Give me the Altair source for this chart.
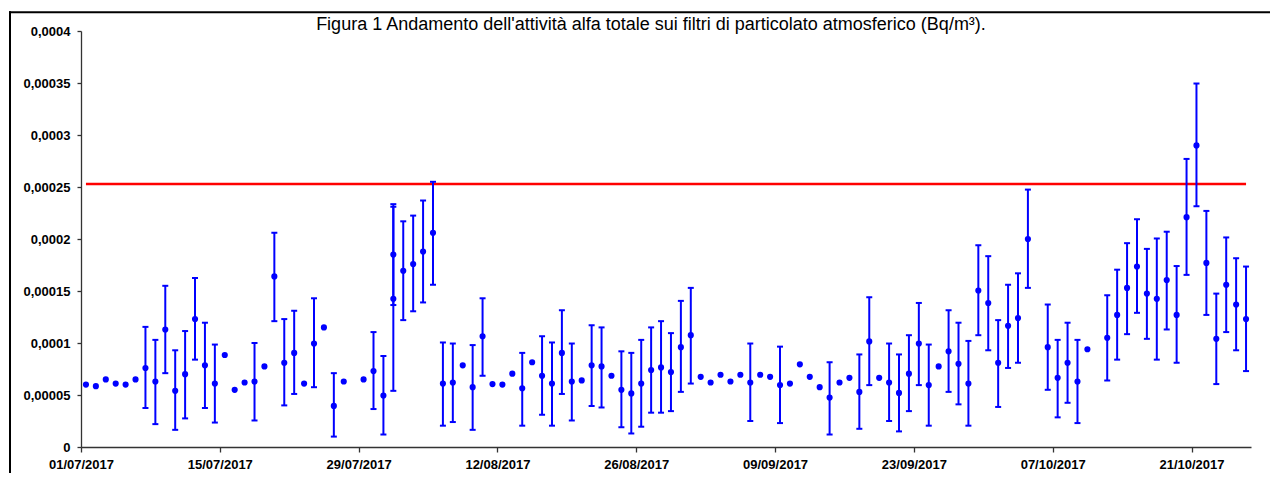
import altair as alt
import pandas as pd

# ---------------- data ----------------
dates = [
    "2017-07-01", "2017-07-02", "2017-07-03", "2017-07-04", "2017-07-05", "2017-07-06",
    "2017-07-07", "2017-07-08", "2017-07-09", "2017-07-10", "2017-07-11", "2017-07-12",
    "2017-07-13", "2017-07-14", "2017-07-15", "2017-07-16", "2017-07-17", "2017-07-18",
    "2017-07-19", "2017-07-20", "2017-07-21", "2017-07-22", "2017-07-23", "2017-07-24",
    "2017-07-25", "2017-07-26", "2017-07-27", "2017-07-29", "2017-07-30", "2017-07-31",
    "2017-08-01", "2017-08-01", "2017-08-02", "2017-08-03", "2017-08-04", "2017-08-05",
    "2017-08-06", "2017-08-07", "2017-08-08", "2017-08-09", "2017-08-10", "2017-08-11",
    "2017-08-12", "2017-08-13", "2017-08-14", "2017-08-15", "2017-08-16", "2017-08-17",
    "2017-08-18", "2017-08-19", "2017-08-20", "2017-08-21", "2017-08-22", "2017-08-23",
    "2017-08-24", "2017-08-25", "2017-08-26", "2017-08-27", "2017-08-28", "2017-08-29",
    "2017-08-30", "2017-08-31", "2017-09-01", "2017-09-02", "2017-09-03", "2017-09-04",
    "2017-09-05", "2017-09-06", "2017-09-07", "2017-09-08", "2017-09-09", "2017-09-10",
    "2017-09-11", "2017-09-12", "2017-09-13", "2017-09-14", "2017-09-15", "2017-09-16",
    "2017-09-17", "2017-09-18", "2017-09-19", "2017-09-20", "2017-09-21", "2017-09-22",
    "2017-09-23", "2017-09-24", "2017-09-25", "2017-09-26", "2017-09-27", "2017-09-28",
    "2017-09-29", "2017-09-30", "2017-10-01", "2017-10-02", "2017-10-03", "2017-10-04",
    "2017-10-06", "2017-10-07", "2017-10-08", "2017-10-09", "2017-10-10", "2017-10-12",
    "2017-10-13", "2017-10-14", "2017-10-15", "2017-10-16", "2017-10-17", "2017-10-18",
    "2017-10-19", "2017-10-20", "2017-10-21", "2017-10-22", "2017-10-23", "2017-10-24",
    "2017-10-25", "2017-10-26",
]

activity = [
    6.00e-05, 5.85e-05, 6.50e-05, 6.10e-05, 6.00e-05, 6.50e-05,
    7.60e-05, 6.30e-05, 11.30e-05, 5.40e-05, 7.00e-05, 12.30e-05,
    7.85e-05, 6.10e-05, 8.85e-05, 5.50e-05, 6.20e-05, 6.30e-05,
    7.75e-05, 16.40e-05, 8.10e-05, 9.05e-05, 6.10e-05, 9.95e-05,
    11.50e-05, 3.95e-05, 6.30e-05, 6.50e-05, 7.30e-05, 4.95e-05,
    18.50e-05, 14.25e-05, 16.95e-05, 17.60e-05, 18.80e-05, 20.60e-05,
    6.10e-05, 6.20e-05, 7.85e-05, 5.75e-05, 10.65e-05, 6.05e-05,
    6.00e-05, 7.05e-05, 5.65e-05, 8.15e-05, 6.85e-05, 6.10e-05,
    9.05e-05, 6.30e-05, 6.40e-05, 7.85e-05, 7.75e-05, 6.85e-05,
    5.50e-05, 5.15e-05, 6.10e-05, 7.40e-05, 7.65e-05, 7.20e-05,
    9.60e-05, 10.75e-05, 6.75e-05, 6.20e-05, 6.95e-05, 6.30e-05,
    6.95e-05, 6.20e-05, 6.95e-05, 6.75e-05, 5.95e-05, 6.10e-05,
    7.95e-05, 6.75e-05, 5.75e-05, 4.75e-05, 6.20e-05, 6.65e-05,
    5.30e-05, 10.15e-05, 6.65e-05, 6.20e-05, 5.20e-05, 7.05e-05,
    9.95e-05, 5.95e-05, 7.75e-05, 9.20e-05, 8.00e-05, 6.10e-05,
    15.05e-05, 13.85e-05, 8.10e-05, 11.65e-05, 12.40e-05, 20.00e-05,
    9.60e-05, 6.65e-05, 8.10e-05, 6.30e-05, 9.40e-05, 10.50e-05,
    12.70e-05, 15.30e-05, 17.35e-05, 14.75e-05, 14.25e-05, 16.05e-05,
    12.70e-05, 22.10e-05, 29.00e-05, 17.70e-05, 10.40e-05, 15.60e-05,
    13.70e-05, 12.30e-05,
]

# lower / upper end of the uncertainty bars (None = no bar drawn)
err_low = [
    None, None, None, None, None, None,
    3.75e-05, 2.20e-05, 7.10e-05, 1.65e-05, 2.75e-05, 8.40e-05,
    3.75e-05, 2.35e-05, None, None, None, 2.55e-05,
    None, 12.10e-05, 4.00e-05, 5.10e-05, None, 5.75e-05,
    None, 1.00e-05, None, None, 3.65e-05, 1.20e-05,
    13.65e-05, 5.40e-05, 12.20e-05, 13.05e-05, 13.90e-05, 15.60e-05,
    2.05e-05, 2.40e-05, None, 1.65e-05, 6.85e-05, None,
    None, None, 2.05e-05, None, 3.10e-05, 2.05e-05,
    5.10e-05, 2.55e-05, None, 3.95e-05, 3.80e-05, None,
    1.90e-05, 1.30e-05, 1.95e-05, 3.30e-05, 3.30e-05, 3.45e-05,
    5.30e-05, 6.10e-05, None, None, None, None,
    None, 2.50e-05, None, None, 2.30e-05, None,
    None, None, None, 1.20e-05, None, None,
    1.75e-05, 5.95e-05, None, 2.50e-05, 1.50e-05, 3.45e-05,
    5.95e-05, 2.05e-05, None, 5.30e-05, 4.10e-05, 2.05e-05,
    10.75e-05, 9.30e-05, 3.85e-05, 7.60e-05, 8.10e-05, 15.30e-05,
    5.50e-05, 2.85e-05, 4.25e-05, 2.30e-05, None, 6.40e-05,
    8.40e-05, 10.85e-05, 12.90e-05, 10.40e-05, 8.40e-05, 11.30e-05,
    8.10e-05, 16.55e-05, 23.15e-05, 12.70e-05, 6.05e-05, 11.05e-05,
    9.30e-05, 7.30e-05,
]

err_high = [
    None, None, None, None, None, None,
    11.55e-05, 10.30e-05, 15.50e-05, 9.30e-05, 11.15e-05, 16.25e-05,
    11.95e-05, 9.85e-05, None, None, None, 10.00e-05,
    None, 20.60e-05, 12.30e-05, 13.10e-05, None, 14.30e-05,
    None, 7.10e-05, None, None, 11.05e-05, 8.75e-05,
    23.35e-05, 23.10e-05, 21.70e-05, 22.25e-05, 23.70e-05, 25.50e-05,
    10.05e-05, 9.95e-05, None, 9.80e-05, 14.30e-05, None,
    None, None, 9.05e-05, None, 10.65e-05, 10.05e-05,
    13.15e-05, 9.95e-05, None, 11.70e-05, 11.50e-05, None,
    9.20e-05, 9.05e-05, 10.30e-05, 11.50e-05, 12.10e-05, 10.95e-05,
    14.05e-05, 15.30e-05, None, None, None, None,
    None, 9.95e-05, None, None, 9.65e-05, None,
    None, None, None, 8.15e-05, None, None,
    8.90e-05, 14.40e-05, None, 9.95e-05, 8.90e-05, 10.75e-05,
    13.85e-05, 9.85e-05, None, 13.15e-05, 11.95e-05, 10.20e-05,
    19.40e-05, 18.35e-05, 12.20e-05, 15.60e-05, 16.70e-05, 24.75e-05,
    13.70e-05, 10.30e-05, 11.95e-05, 10.30e-05, None, 14.60e-05,
    17.05e-05, 19.60e-05, 21.90e-05, 19.05e-05, 20.05e-05, 20.70e-05,
    17.40e-05, 27.70e-05, 34.95e-05, 22.70e-05, 14.75e-05, 20.15e-05,
    18.15e-05, 17.35e-05,
]

limit_value = 0.000253
limit_start = "2017-07-01"
limit_end = "2017-10-26"

tick_labels = ["01/07/2017", "15/07/2017", "29/07/2017", "12/08/2017", "26/08/2017",
               "09/09/2017", "23/09/2017", "07/10/2017", "21/10/2017"]
y_ticks = [0, 0.00005, 0.0001, 0.00015, 0.0002, 0.00025, 0.0003, 0.00035, 0.0004]

title_text = "Figura 1 Andamento dell'attività alfa totale sui filtri di particolato atmosferico (Bq/m³)."

# ---------------- tables ----------------
def day_centre(d):
    # each daily sample sits in the middle of its day slot
    return (pd.Timestamp(d) + pd.Timedelta(hours=12)).strftime("%Y-%m-%dT%H:%M:%SZ")

df = pd.DataFrame({
    "t": [day_centre(d) for d in dates],
    "value": activity,
    "lo": err_low,
    "hi": err_high,
})
df_err = df.dropna(subset=["lo", "hi"])

df_limit = pd.DataFrame({"start": [day_centre(limit_start)],
                         "end": [day_centre(limit_end)],
                         "limit": [limit_value]})

tick_vals = []
for s in tick_labels:
    dd, mm, yy = s.split("/")
    tick_vals.append(alt.DateTime(year=int(yy), month=int(mm), date=int(dd), utc=True))

FONT = "Liberation Sans"
BLUE = "#0000FF"
AXIS_COL = "#333333"

x_scale = alt.Scale(type="utc",
                    domain=[alt.DateTime(year=2017, month=7, date=1, utc=True),
                            alt.DateTime(year=2017, month=10, date=27, utc=True)])
y_scale = alt.Scale(domain=[0, 0.0004], nice=False, zero=True)

x_axis = alt.Axis(values=tick_vals, format="%d/%m/%Y", title=None, grid=False,
                  labelFont=FONT, labelFontSize=13, labelFontWeight="bold",
                  labelColor="black", labelPadding=6, tickSize=5,
                  tickColor=AXIS_COL, domainColor=AXIS_COL, domainWidth=1.3,
                  tickWidth=1.3, labelOverlap=False, labelFlush=False)
y_axis = alt.Axis(values=y_ticks, title=None, grid=False,
                  labelExpr="replace(format(datum.value, ''), '.', ',')",
                  labelFont=FONT, labelFontSize=13, labelFontWeight="bold",
                  labelColor="black", labelPadding=7, tickSize=4,
                  tickColor=AXIS_COL, domainColor=AXIS_COL, domainWidth=1.3,
                  tickWidth=1.3)

base = alt.Chart(df)

points = base.mark_circle(size=38, color=BLUE, opacity=1).encode(
    x=alt.X("t:T", scale=x_scale, axis=x_axis),
    y=alt.Y("value:Q", scale=y_scale, axis=y_axis),
)

bars = alt.Chart(df_err).mark_rule(color=BLUE, strokeWidth=2).encode(
    x=alt.X("t:T", scale=x_scale),
    y=alt.Y("lo:Q", scale=y_scale),
    y2="hi:Q",
)
cap_lo = alt.Chart(df_err).mark_tick(color=BLUE, orient="horizontal", size=6,
                                     thickness=2, opacity=1).encode(
    x=alt.X("t:T", scale=x_scale),
    y=alt.Y("lo:Q", scale=y_scale),
)
cap_hi = alt.Chart(df_err).mark_tick(color=BLUE, orient="horizontal", size=6,
                                     thickness=2, opacity=1).encode(
    x=alt.X("t:T", scale=x_scale),
    y=alt.Y("hi:Q", scale=y_scale),
)

limit_line = alt.Chart(df_limit).mark_rule(color="#FF0000", strokeWidth=2.5).encode(
    x=alt.X("start:T", scale=x_scale),
    x2="end:T",
    y=alt.Y("limit:Q", scale=y_scale),
)

# decorative Excel-style chart-area border: left and top edges as thin filled bands
deco = pd.DataFrame({"k": [0]})
frame_left = alt.Chart(deco).mark_rect(color="black", opacity=1).encode(
    x=alt.value(-72), x2=alt.value(-70), y=alt.value(-19.7), y2=alt.value(600))
frame_top = alt.Chart(deco).mark_rect(color="black", opacity=1).encode(
    x=alt.value(-72), x2=alt.value(1400), y=alt.value(-19.7), y2=alt.value(-17.7))

title_df = pd.DataFrame({"title": [title_text]})
title = alt.Chart(title_df).mark_text(font=FONT, fontSize=18, color="black",
                                      align="center", baseline="alphabetic").encode(
    text="title:N", x=alt.value(570), y=alt.value(-1.5))

chart = alt.layer(
    frame_left, frame_top, title, limit_line, bars, cap_lo, cap_hi, points
).properties(
    width=1170, height=416,
    autosize=alt.AutoSizeParams(type="none"),
    padding={"left": 73, "top": 23, "right": 19, "bottom": 26},
    background="white",
).configure_view(stroke="transparent")

chart.save("out.html", embed_options={"renderer": "svg", "actions": False})
